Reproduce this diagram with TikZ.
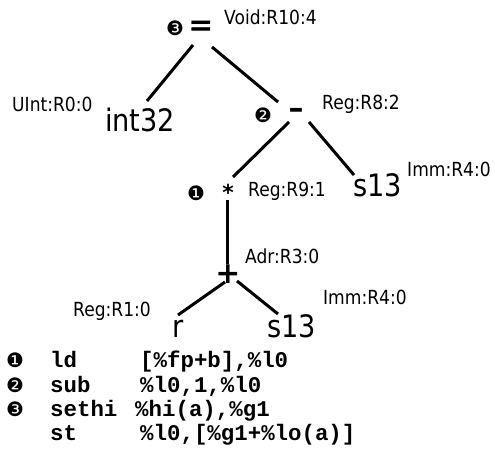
\documentclass[tikz,border=0pt]{standalone}
\usepackage{fontspec}
\setmainfont{DejaVu Sans}
\newfontfamily\narrowfont[FakeStretch=0.88]{DejaVu Sans}
\newfontfamily\codefont{Liberation Mono}
\tikzset{
  lbl/.style={anchor=base west, inner sep=0pt, font=\narrowfont\fontsize{19.5}{22}\selectfont},
  big/.style={anchor=base west, inner sep=0pt, font=\narrowfont\fontsize{31}{34}\selectfont},
  opr/.style={inner sep=0pt, font=\bfseries\fontsize{30}{34}\selectfont},
  num/.style={inner sep=0pt, font=\fontsize{20}{22}\selectfont},
  code/.style={anchor=base west, inner sep=0pt, font=\codefont\bfseries\fontsize{22.5}{24}\selectfont},
  codenum/.style={anchor=base, inner sep=0pt, font=\fontsize{20}{22}\selectfont},
  edge/.style={line width=3bp}
}
\begin{document}
\begin{tikzpicture}[x=1bp,y=-1bp]
\useasboundingbox (0,0) rectangle (495,457);
% operators
\node[opr] (eq) at (201,28) {=};
\node[opr] (minus) at (296,113) {–};
\node[opr,font=\bfseries\fontsize{22}{26}\selectfont] (star) at (228,192) {*};
\node[opr] (plus) at (228,274) {+};
% leaves
\node[big] (int) at (105,132) {int32};
\node[big] (s13a) at (353,197) {s13};
\node[big] (r) at (172,337) {r};
\node[big] (s13b) at (267,337) {s13};
% numbers
\node[num] (n3) at (175,28) {❸};
\node[num] (n2) at (263,115) {❷};
\node[num] (n1) at (196,193) {❶};
% labels
\node[lbl] (l1) at (224,25) {Void:R10:4};
\node[lbl] (l2) at (12,112) {UInt:R0:0};
\node[lbl] (l3) at (322,110) {Reg:R8:2};
\node[lbl] (l4) at (407,177) {Imm:R4:0};
\node[lbl] (l5) at (248,197) {Reg:R9:1};
\node[lbl] (l6) at (245,263) {Adr:R3:0};
\node[lbl] (l7) at (73,316) {Reg:R1:0};
\node[lbl] (l8) at (323,304) {Imm:R4:0};
% edges
\draw[edge] ([shift={(-8,17)}]eq.center) -- ([shift={(42,-31)}]int.base west);
\draw[edge] ([shift={(11,19)}]eq.center) -- ([shift={(-18,-11)}]minus.center);
\draw[edge] ([shift={(-7,9)}]minus.center) -- ([shift={(5,-15)}]star.center);
\draw[edge] ([shift={(13,9)}]minus.center) -- ([shift={(1,-22)}]s13a.base west);
\draw[edge] ([shift={(-1,8)}]star.center) -- ([shift={(-1,-10)}]plus.center);
\draw[edge] ([shift={(-3,8)}]plus.center) -- ([shift={(6,-22)}]r.base west);
\draw[edge] ([shift={(9,7)}]plus.center) -- ([shift={(11,-23)}]s13b.base west);
% code
\node[codenum] (c1) at (15,367) {❶};
\node[code] (m1) at (50,367) {ld};
\node[code] (o1) at (140,367) {[\%fp+b],\%l0};
\node[codenum] (c2) at (15,392) {❷};
\node[code] (m2) at (50,392) {sub};
\node[code] (o2) at (140,392) {\%l0,1,\%l0};
\node[codenum] (c3) at (15,416) {❸};
\node[code] (m3) at (50,416) {sethi};
\node[code] (o3) at (135,416) {\%hi(a),\%g1};
\node[code] (m4) at (50,440) {st};
\node[code] (o4) at (140,440) {\%l0,[\%g1+\%lo(a)]};
\end{tikzpicture}
\end{document}
